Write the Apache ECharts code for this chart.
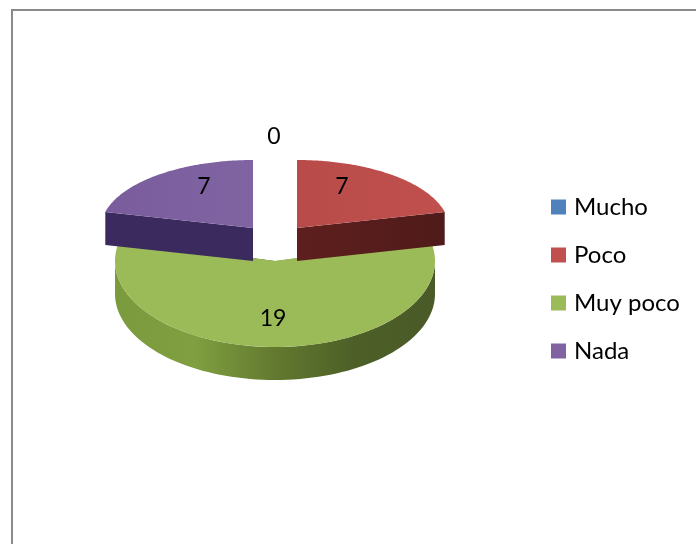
<!DOCTYPE html>
<html><head><meta charset="utf-8">
<style>html,body{margin:0;padding:0;background:#fff}#c{width:696px;height:544px}</style>
<script src="https://cdn.jsdelivr.net/npm/echarts@6/dist/echarts.min.js"></script>
</head><body><div id="c"></div>
<script>
const categories = ['Mucho', 'Poco', 'Muy poco', 'Nada'];
const values = [0, 7, 19, 7];
const colors = ['#4f81bd', '#c0504d', '#9bbb59', '#8064a2'];

// drawing layout of the tilted exploded pie (one exploded position per slice)
const DEPTH = 33;
const layout = [
  {cx: 275, cy: 228, rx: 150, ry: 68, lx: 274, ly: 137, z: 4, top: colors[0], side: ['#2f4d71', '#2f4d71']},
  {cx: 297, cy: 228, rx: 152, ry: 68, lx: 342, ly: 187, z: 3, top: ['#b84b49', '#c0504d'],
    side: ['#5e1f1e', '#4f1b1a']},
  {cx: 275, cy: 261, rx: 160, ry: 86, lx: 273, ly: 319, z: 1, top: colors[2],
    side: ['#7a9a3e', '#7f9f40', '#62792f', '#4d5f27', '#4a5a28']},
  {cx: 253, cy: 228, rx: 152, ry: 68, lx: 204, ly: 187, z: 3, top: ['#7a5c9c', '#8064a2'],
    side: ['#3a2a5e', '#3a2a5e']}
];
const total = values.reduce((a, b) => a + b, 0);
const starts = values.map((_, i) => values.slice(0, i).reduce((a, b) => a + b, 0) / total * 2 * Math.PI);

function grad(c) {
  if (typeof c === 'string') return c;
  return {type: 'linear', x: 0, y: 0, x2: 1, y2: 0, global: false,
    colorStops: c.map((col, i) => ({offset: i / (c.length - 1), color: col}))};
}
function makeRender(idx) {
  return function (params, api) {
    const L = layout[idx];
    const a0 = api.value(0), a1 = api.value(1);
    const pt = (a, d) => [L.cx + L.rx * Math.sin(a), L.cy - L.ry * Math.cos(a) + (d || 0)];
    const children = [];
    if (a1 > a0) {
      // radial walls
      [a0, a1].forEach(a => {
        children.push({type: 'polygon', shape: {points: [[L.cx, L.cy], pt(a), pt(a, DEPTH), [L.cx, L.cy + DEPTH]]},
          style: {fill: grad(L.side)}});
      });
      // outer rim, the part that faces the viewer
      const r0 = Math.max(a0, Math.PI / 2), r1 = Math.min(a1, 1.5 * Math.PI);
      if (r1 > r0) {
        const upper = [], lower = [];
        for (let k = 0; k <= 80; k++) {
          const a = r0 + (r1 - r0) * k / 80;
          upper.push(pt(a));
          lower.unshift(pt(a, DEPTH));
        }
        children.push({type: 'polygon', shape: {points: upper.concat(lower)},
          style: {fill: grad(L.side)}});
      }
      // top face
      const face = [[L.cx, L.cy]];
      for (let k = 0; k <= 100; k++) face.push(pt(a0 + (a1 - a0) * k / 100));
      children.push({type: 'polygon', shape: {points: face}, style: {fill: grad(L.top)}});
    }
    children.push({type: 'text', z2: 10, style: {
      x: L.lx, y: L.ly, text: String(api.value(2)), align: 'center', verticalAlign: 'middle',
      font: '23px Lato, "Open Sans", sans-serif', fill: '#000'}});
    return {type: 'group', children};
  };
}

const series = categories.map((name, i) => ({
  type: 'custom', name, coordinateSystem: 'none', z: layout[i].z,
  itemStyle: {color: colors[i]},
  renderItem: makeRender(i),
  silent: true, animation: false,
  data: [[starts[i], starts[i] + values[i] / total * 2 * Math.PI, values[i]]]
}));

const chart = echarts.init(document.getElementById('c'), null, {renderer: 'canvas'});
chart.setOption({
  backgroundColor: '#fff',
  animation: false,
  legend: {
    data: categories.map(name => ({name, icon: 'rect'})),
    orient: 'vertical', left: 546, top: 190, itemWidth: 15, itemHeight: 15, itemGap: 24,
    textStyle: {fontFamily: 'Lato, "Open Sans", sans-serif', fontSize: 24, lineHeight: 15, color: '#000', padding: [0, 0, 0, 3]},
    selectedMode: false
  },
  graphic: [{type: 'rect', silent: true, z: -1,
    shape: {x: 12, y: 10, width: 720, height: 600},
    style: {fill: 'none', stroke: '#8a8a8a', lineWidth: 2}}],
  series
});
</script></body></html>
